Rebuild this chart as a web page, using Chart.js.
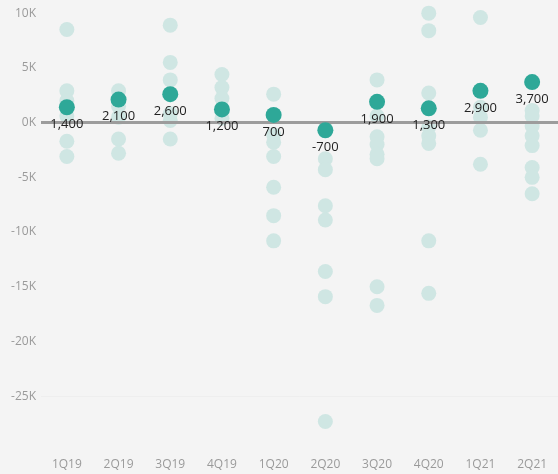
<!DOCTYPE html>
<html>
<head>
<meta charset="utf-8">
<style>
  html, body { margin: 0; padding: 0; background: #f4f4f4; }
  #wrap { width: 558px; height: 474px; }
</style>
<script src="https://cdn.jsdelivr.net/npm/chart.js@4/dist/chart.umd.min.js"></script>
</head>
<body>
<div id="wrap"><canvas id="c" width="558" height="474"></canvas></div>
<script>
// Quarters on the x axis
const quarters = ['1Q19', '2Q19', '3Q19', '4Q19', '1Q20', '2Q20', '3Q20', '4Q20', '1Q21', '2Q21'];

// Average change per quarter (highlighted, labelled points)
const averageChange = [1400, 2100, 2600, 1200, 700, -700, 1900, 1300, 2900, 3700];

// Individual member changes per quarter (faint points)
const members1Q19 = [8500, 2900, 2000, 600, -1700, -3100];
const members2Q19 = [2900, 1500, 500, -1500, -2800];
const members3Q19 = [8900, 5500, 3900, 800, 200, -1500];
const members4Q19 = [4400, 3200, 2200, 400];
const members1Q20 = [2600, -1100, -1800, -3100, -5900, -8500, -10800];
const members2Q20 = [-3300, -4300, -7600, -8900, -13600, -15900, -27300];
const members3Q20 = [3900, 600, -1300, -2000, -2900, -3300, -15000, -16700];
const members4Q20 = [10000, 8400, 2700, -400, -1200, -1900, -10800, -15600];
const members1Q21 = [9600, 1400, 500, -700, -3800];
const members2Q21 = [1100, 600, -300, -1200, -2100, -4100, -5000, -6500];

const memberLists = [members1Q19, members2Q19, members3Q19, members4Q19, members1Q20,
                     members2Q20, members3Q20, members4Q20, members1Q21, members2Q21];

// Values marked on the y axis
const yTickValues = [-25000, -20000, -15000, -10000, -5000, 0, 5000, 10000];

const memberPoints = [];
memberLists.forEach((list, i) => list.forEach(v => memberPoints.push({ x: quarters[i], y: v })));
const averagePoints = averageChange.map((v, i) => ({ x: quarters[i], y: v }));

const TEAL = '#2ea898';
const FAINT = '#cfe6e3';
const FONT = '"Open Sans", "DejaVu Sans", sans-serif';

// Zero baseline drawn over the faint points but beneath the highlighted ones
const zeroLine = {
  id: 'zeroLine',
  beforeDatasetDraw(chart, args) {
    if (args.index !== 0) return;
    const { ctx, chartArea, scales } = chart;
    const y = scales.y.getPixelForValue(0);
    ctx.save();
    ctx.strokeStyle = '#9c9c9c';
    ctx.lineWidth = 3;
    ctx.beginPath();
    ctx.moveTo(chartArea.left, y);
    ctx.lineTo(chartArea.right, y);
    ctx.stroke();
    ctx.restore();
  }
};

// Value labels under each average point
const valueLabels = {
  id: 'valueLabels',
  afterDatasetsDraw(chart) {
    const { ctx } = chart;
    const meta = chart.getDatasetMeta(0);
    ctx.save();
    ctx.font = '13px ' + FONT;
    ctx.fillStyle = '#222';
    ctx.textAlign = 'center';
    ctx.textBaseline = 'middle';
    meta.data.forEach((pt, i) => {
      ctx.fillText(averageChange[i].toLocaleString('en-US'), pt.x, pt.y + 17);
    });
    ctx.restore();
  }
};

new Chart(document.getElementById('c'), {
  type: 'scatter',
  data: {
    labels: quarters,
    datasets: [
      {
        label: 'Average',
        data: averagePoints,
        backgroundColor: TEAL,
        borderWidth: 0,
        pointRadius: 8,
        pointHoverRadius: 8,
        clip: false
      },
      {
        label: 'Members',
        data: memberPoints,
        backgroundColor: FAINT,
        borderWidth: 0,
        pointRadius: 7.5,
        pointHoverRadius: 7.5,
        clip: false
      }
    ]
  },
  options: {
    responsive: false,
    animation: false,
    events: [],
    layout: { autoPadding: false, padding: { top: 0, right: 0, bottom: 4, left: 0 } },
    plugins: { legend: { display: false }, tooltip: { enabled: false } },
    scales: {
      x: {
        type: 'category',
        labels: quarters,
        offset: true,
        afterFit(scale) {
          scale.height = 19;
          scale.paddingLeft = 0;
          scale.paddingRight = 0;
        },
        grid: { display: false, drawTicks: false },
        border: { display: false },
        ticks: { color: '#9a9a9a', font: { family: FONT, size: 12 }, padding: 6, maxRotation: 0 }
      },
      y: {
        type: 'linear',
        min: -30000,
        max: 11200,
        afterBuildTicks(scale) { scale.ticks = yTickValues.map(v => ({ value: v })); },
        afterFit(scale) {
          scale.width = 41;
          scale.paddingTop = 0;
          scale.paddingBottom = 0;
        },
        grid: {
          drawTicks: false,
          color: c => (c.tick && c.tick.value === -25000) ? 'rgba(0,0,0,0.025)' : 'rgba(0,0,0,0)'
        },
        border: { display: false },
        ticks: {
          color: '#9a9a9a',
          font: { family: FONT, size: 12 },
          padding: 5,
          callback: v => (v / 1000) + 'K'
        }
      }
    }
  },
  plugins: [zeroLine, valueLabels]
});
</script>
</body>
</html>
